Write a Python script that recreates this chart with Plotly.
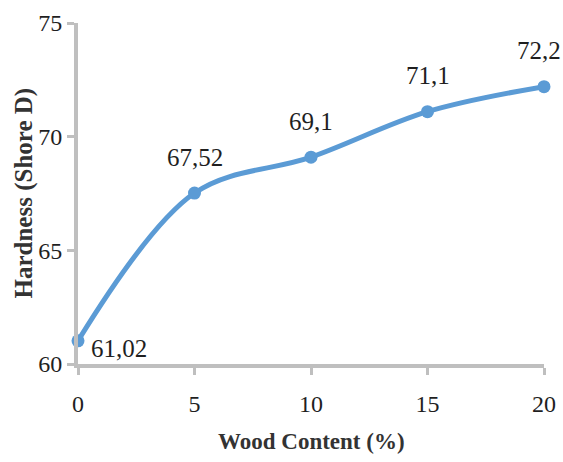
import plotly.graph_objects as go

# Hardness of the composite versus wood content
wood_content = [0, 5, 10, 15, 20]
hardness = [61.02, 67.52, 69.1, 71.1, 72.2]
hardness_labels = ["61,02", "67,52", "69,1", "71,1", "72,2"]
x_ticks = [0, 5, 10, 15, 20]
y_ticks = [60, 65, 70, 75]
x_title = "Wood Content (%)"
y_title = "Hardness (Shore D)"

LINE_BLUE = "#5B9BD5"
AXIS_GREY = "#BFBFBF"
TEXT_DARK = "#1f1f1f"
TITLE_DARK = "#333333"
SERIF = "Liberation Serif, Times New Roman, serif"

fig = go.Figure()
fig.add_trace(go.Scatter(
    x=wood_content,
    y=hardness,
    mode="lines+markers",
    line=dict(color=LINE_BLUE, width=5, shape="spline", smoothing=1.0),
    marker=dict(color=LINE_BLUE, size=13),
    cliponaxis=False,
    showlegend=False,
))

# value labels: the first sits to the right of its point, the rest above
last = len(wood_content) - 1
for i, (xv, yv, txt) in enumerate(zip(wood_content, hardness, hardness_labels)):
    if i == 0:
        fig.add_annotation(x=xv, y=yv, text=txt, showarrow=False,
                           xanchor="left", xshift=11, yshift=-8,
                           font=dict(family=SERIF, size=25, color=TEXT_DARK))
    else:
        fig.add_annotation(x=xv, y=yv, text=txt, showarrow=False,
                           xanchor="center", yshift=36,
                           xshift=-5 if i == last else 0,
                           font=dict(family=SERIF, size=25, color=TEXT_DARK))

# axis titles
fig.add_annotation(xref="paper", yref="paper", x=0.5, y=0, yanchor="middle",
                   yshift=-77, text=f"<b>{x_title}</b>", showarrow=False,
                   font=dict(family=SERIF, size=23, color=TITLE_DARK))
fig.add_annotation(xref="paper", yref="paper", x=0, y=0.5, xanchor="center",
                   xshift=-55, textangle=-90, text=f"<b>{y_title}</b>",
                   showarrow=False,
                   font=dict(family=SERIF, size=25, color=TITLE_DARK))

fig.update_layout(
    width=563, height=462,
    margin=dict(l=78, r=19, t=23, b=98),
    paper_bgcolor="white", plot_bgcolor="white",
    font=dict(family=SERIF, color=TEXT_DARK),
)
fig.update_xaxes(
    range=[0, 20], tickvals=x_ticks, automargin=False,
    showgrid=False, zeroline=False,
    showline=True, linecolor=AXIS_GREY, linewidth=4,
    ticks="outside", ticklen=7, tickwidth=3, tickcolor=AXIS_GREY,
    ticklabelstandoff=8,
    tickfont=dict(family=SERIF, size=24, color=TEXT_DARK),
)
fig.update_yaxes(
    range=[60, 75], tickvals=y_ticks, automargin=False,
    showgrid=False, zeroline=False,
    showline=True, linecolor=AXIS_GREY, linewidth=4,
    ticks="outside", ticklen=7, tickwidth=3, tickcolor=AXIS_GREY,
    ticklabelstandoff=0,
    tickfont=dict(family=SERIF, size=24, color=TEXT_DARK),
)

fig.write_html("out.html")
